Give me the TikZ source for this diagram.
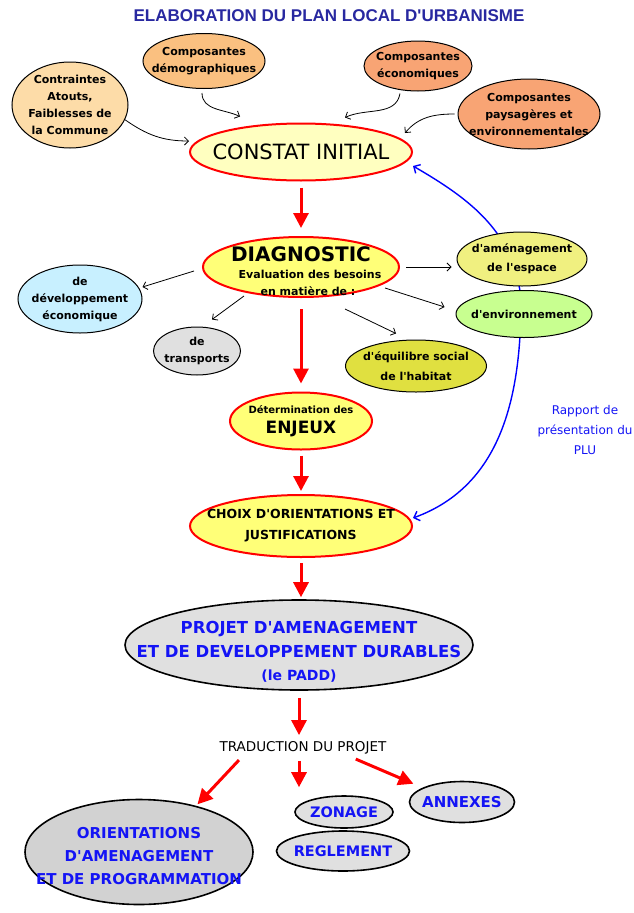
\documentclass[tikz,border=0pt]{standalone}
\usepackage{fontspec}
\newfontfamily\bodyfont{DejaVu Sans}
\newfontfamily\titlefont{Liberation Sans}
\usetikzlibrary{shapes.geometric,arrows.meta,backgrounds,positioning}

\definecolor{titblue}{RGB}{40,40,160}
\definecolor{txtblue}{RGB}{20,20,245}
\definecolor{peach}{RGB}{253,220,168}
\definecolor{orangeA}{RGB}{250,192,128}
\definecolor{orangeB}{RGB}{248,164,116}
\definecolor{yelA}{RGB}{255,255,192}
\definecolor{yelB}{RGB}{255,255,120}
\definecolor{skyA}{RGB}{200,240,255}
\definecolor{greyA}{RGB}{224,224,224}
\definecolor{oliveA}{RGB}{224,224,64}
\definecolor{yelC}{RGB}{240,240,128}
\definecolor{greenA}{RGB}{200,255,144}

\newcommand{\fbub}{\fontsize{11}{17}\selectfont\bfseries}

% negative inner sep: the ellipse size is set by minimum width/height only
\tikzset{
  bub/.style={ draw, ellipse, line width=1pt, inner sep=-100pt, align=center, font=\fbub }
}
\tikzset{
  ovalR/.style={ draw=red, ellipse, line width=2pt, inner sep=-100pt, align=center }
}
\tikzset{
  ovalG/.style={ draw, ellipse, fill=greyA, line width=1.6pt, inner sep=-100pt, align=center, text=txtblue }
}
\tikzset{
  arr/.style={ ->, >={Straight Barb[length=4pt,width=8pt]}, line width=0.8pt }
}
\tikzset{
  redarr/.style={ draw=red, line width=3pt, -{Triangle[length=15pt,width=15pt]} }
}
\tikzset{
  rap/.style={ draw=blue, line width=1.4pt, {Straight Barb[length=5pt,width=10pt]}-{Straight Barb[length=5pt,width=10pt]} }
}

\begin{document}
\bodyfont
\begin{tikzpicture}[x=1pt, y=1pt]
  \useasboundingbox (0,0) rectangle (634,-913);

  \node[text=titblue, font=\titlefont\bfseries\fontsize{17}{20}\selectfont] (titre) at (329,-16) {ELABORATION DU PLAN LOCAL D'URBANISME};

  % sources of the initial survey
  \node[bub, fill=peach, minimum width=116pt, minimum height=86pt] (contr) at (70,-105) {Contraintes\\Atouts,\\Faiblesses de\\la Commune};
  \node[bub, fill=orangeA, minimum width=122pt, minimum height=55pt] (demo) at (204,-61) {Composantes\\démographiques};
  \node[bub, fill=orangeB, minimum width=108pt, minimum height=50pt] (eco) at (418,-66) {Composantes\\économiques};
  \node[bub, fill=orangeB, minimum width=142pt, minimum height=70pt] (pays) at (529,-114) {Composantes\\paysagères et\\environnementales};

  \node[ovalR, fill=yelA, minimum width=222pt, minimum height=57pt, font=\fontsize{21}{24}\selectfont] (constat) at (301,-152) {CONSTAT INITIAL};

  \draw[arr] (contr.-15) to[out=-35, in=180] ([yshift=11pt]constat.west);
  \draw[arr] ([xshift=-2pt,yshift=-4pt]demo.south) to[out=-90, in=155] ([xshift=-61pt,yshift=6pt]constat.north);
  \draw[arr] ([xshift=-18pt,yshift=-2pt]eco.south) to[out=-100, in=25] ([xshift=44pt,yshift=5pt]constat.north);
  \draw[arr] ([xshift=-3pt]pays.west) to[out=180, in=50] ([xshift=-8pt,yshift=19pt]constat.east);

  % diagnostic
  \node[ovalR, fill=yelB, minimum width=196pt, minimum height=60pt, font=\fbub] (diag) at (301,-267) {\rule{0pt}{23pt}{\fontsize{20}{22}\selectfont DIAGNOSTIC}\\\hspace*{18pt}Evaluation des besoins\\\hspace*{14pt}en matière de :};
  \draw[redarr, shorten <=6pt, shorten >=8pt] (constat) -- (diag);

  \node[bub, fill=skyA, minimum width=124pt, minimum height=68pt] (dev) at (80,-299) {de\\développement\\économique};
  \node[bub, fill=greyA, minimum width=87pt, minimum height=48pt] (transp) at (197,-351) {de\\transports};
  \node[bub, fill=oliveA, minimum width=141pt, minimum height=52pt, font=\fontsize{11}{20}\selectfont\bfseries] (equil) at (416,-366) {d'équilibre social\\de l'habitat};
  \node[bub, fill=yelC, minimum width=130pt, minimum height=54pt, font=\fontsize{11}{19}\selectfont\bfseries] (amen) at (522,-259) {d'aménagement\\de l'espace};
  \node[bub, fill=greenA, minimum width=136pt, minimum height=47pt] (env) at (524,-314) {d'environnement};

  \draw[arr] ([xshift=-8pt,yshift=-4pt]diag.west) -- ([yshift=12pt]dev.east);
  \draw[arr] ([xshift=-57pt,yshift=2pt]diag.south) -- ([xshift=15pt,yshift=7pt]transp.north);
  \draw[arr] ([xshift=44pt,yshift=-11pt]diag.south) -- ([xshift=-20pt,yshift=6pt]equil.north);
  \draw[arr, shorten <=6pt, shorten >=5pt] (diag.east) -- (diag.east -| amen.west);
  \draw[arr] ([xshift=-15pt,yshift=-21pt]diag.east) -- ([xshift=-11pt,yshift=7pt]env.west);

  % issues and choices
  \node[ovalR, fill=yelB, minimum width=142pt, minimum height=57pt, font=\fontsize{10}{20}\selectfont\bfseries] (enjeux) at (301,-421) {Détermination des\\{\fontsize{17}{20}\selectfont ENJEUX}};
  \node[ovalR, fill=yelB, minimum width=222pt, minimum height=62pt, font=\fontsize{12.5}{21}\selectfont\bfseries] (choix) at (301,-526) {CHOIX D'ORIENTATIONS ET\\JUSTIFICATIONS};
  \draw[redarr, shorten <=11pt, shorten >=8pt] (diag) -- (enjeux);
  \draw[redarr, shorten <=5pt, shorten >=3pt] (enjeux) -- (choix);

  \node[text=txtblue, font=\fontsize{12}{20}\selectfont, align=center] (rapport) at (585,-430) {Rapport de\\présentation du\\PLU};
  \coordinate (rapmid) at (521,-300);
  \begin{scope}[on background layer]
    \draw[rap] ([yshift=-14pt]constat.east) to[out=-30, in=95] (rapmid) to[out=-90, in=20] ([yshift=8pt]choix.east);
  \end{scope}

  % PADD and its translation
  \node[ovalG, minimum width=348pt, minimum height=90pt, font=\fontsize{16.5}{23.5}\selectfont\bfseries] (padd) at (299,-645) {\rule{0pt}{26pt}PROJET D'AMENAGEMENT\\ET DE DEVELOPPEMENT DURABLES\\{\fontsize{14}{23.5}\selectfont (le PADD)}};
  \draw[redarr, shorten <=5pt, shorten >=2pt] (choix) -- (choix |- padd.north);

  \node[font=\fontsize{13.5}{16}\selectfont] (trad) at (303,-748) {TRADUCTION DU PROJET};
  \draw[redarr, shorten <=7pt, shorten >=3pt] (padd.south) -- (padd.south |- trad.north);

  \node[ovalG, fill=gray!35, minimum width=228pt, minimum height=105pt, font=\fontsize{15}{23}\selectfont\bfseries] (orient) at (139,-852) {\rule{0pt}{19pt}ORIENTATIONS\\D'AMENAGEMENT\\ET DE PROGRAMMATION};
  \node[ovalG, minimum width=133pt, minimum height=40pt, font=\fontsize{14.5}{17}\selectfont\bfseries] (regl) at (343,-851) {REGLEMENT};
  \node[ovalG, minimum width=98pt, minimum height=32pt, font=\fontsize{14.5}{17}\selectfont\bfseries] (zonage) at (344,-812) {ZONAGE};
  \node[ovalG, minimum width=105pt, minimum height=41pt, font=\fontsize{15}{17}\selectfont\bfseries] (annex) at (462,-802) {ANNEXES};

  \draw[redarr, shorten <=3pt, shorten >=2pt] ([xshift=-62pt]trad.south) -- (orient.39);
  \draw[redarr, shorten <=3pt, shorten >=8pt] ([xshift=-4pt]trad.south) -- ([xshift=-4pt]trad.south |- zonage.north);
  \draw[redarr, shorten <=3pt, shorten >=10pt] ([xshift=50pt]trad.south) -- (annex.160);
\end{tikzpicture}
\end{document}
